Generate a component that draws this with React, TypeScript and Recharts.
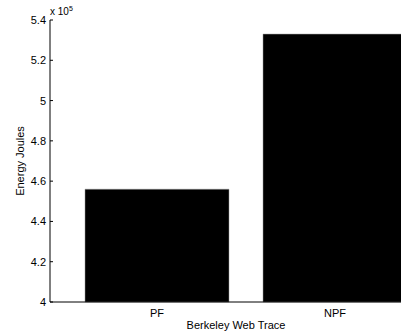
import { BarChart, Bar, XAxis, YAxis } from "recharts";

// Berkeley web trace energy, in units of 10^5 J
const categories = ["PF", "NPF"];
const energy = [4.56, 5.33];
const yTicks = [4, 4.2, 4.4, 4.6, 4.8, 5, 5.2, 5.4];

const data = categories.map((name, i) => ({ name, energy: energy[i] }));

const FONT = "'Liberation Sans', Arial, Helvetica, sans-serif";
const TICK = 3;

function LeftTick(props: any) {
  const { x, y, payload } = props;
  return (
    <g>
      <line x1={x + 4} x2={x + 4 + TICK} y1={y} y2={y} stroke="#000" />
      <text x={x} y={y} dy="0.36em" textAnchor="end" fontSize={11} fill="#000" fontFamily={FONT}>
        {payload.value}
      </text>
    </g>
  );
}

function BottomTick(props: any) {
  const { x, y, payload } = props;
  return (
    <text x={x} y={y} dy="0.71em" textAnchor="middle" fontSize={11} fill="#000" fontFamily={FONT}>
      {payload.value}
    </text>
  );
}

function TopTick(props: any) {
  const { x } = props;
  return <line x1={x} x2={x} y1={20} y2={20 + TICK} stroke="#555" />;
}

export default function App() {
  return (
    <div
      style={{
        position: "absolute",
        left: 0,
        top: 0,
        width: 401,
        height: 335,
        overflow: "hidden",
        background: "#fff",
      }}
    >
      <BarChart
        width={460}
        height={335}
        data={data}
        margin={{ top: 20, right: 18, bottom: 0, left: 0 }}
        barCategoryGap={17}
      >
        <XAxis
          dataKey="name"
          height={33}
          padding={{ left: 18, right: 18 }}
          axisLine={{ stroke: "#000" }}
          tickLine={false}
          tickSize={0}
          tickMargin={7}
          tick={<BottomTick />}
        />
        <XAxis
          xAxisId="top"
          dataKey="name"
          orientation="top"
          height={0}
          padding={{ left: 18, right: 18 }}
          axisLine={{ stroke: "#000" }}
          tickLine={false}
          tick={<TopTick />}
        />
        <YAxis
          width={50}
          domain={[4, 5.4]}
          ticks={yTicks}
          axisLine={{ stroke: "#000" }}
          tickLine={false}
          tickSize={0}
          tickMargin={4}
          tick={<LeftTick />}
        />
        <Bar dataKey="energy" fill="#000" stroke="#999" strokeWidth={0.5} isAnimationActive={false} />
      </BarChart>
      <svg
        width={401}
        height={335}
        style={{ position: "absolute", left: 0, top: 0, pointerEvents: "none" }}
        fontFamily={FONT}
      >
        <text x={50} y={15} fontSize={10} fill="#000">
          x 10
          <tspan fontSize={7} dy={-4}>5</tspan>
        </text>
        <text
          x={24}
          y={161}
          transform="rotate(-90 24 161)"
          textAnchor="middle"
          fontSize={11}
          fill="#000"
        >
          Energy Joules
        </text>
        <text x={236} y={329} textAnchor="middle" fontSize={11} fill="#000">
          Berkeley Web Trace
        </text>
      </svg>
    </div>
  );
}
